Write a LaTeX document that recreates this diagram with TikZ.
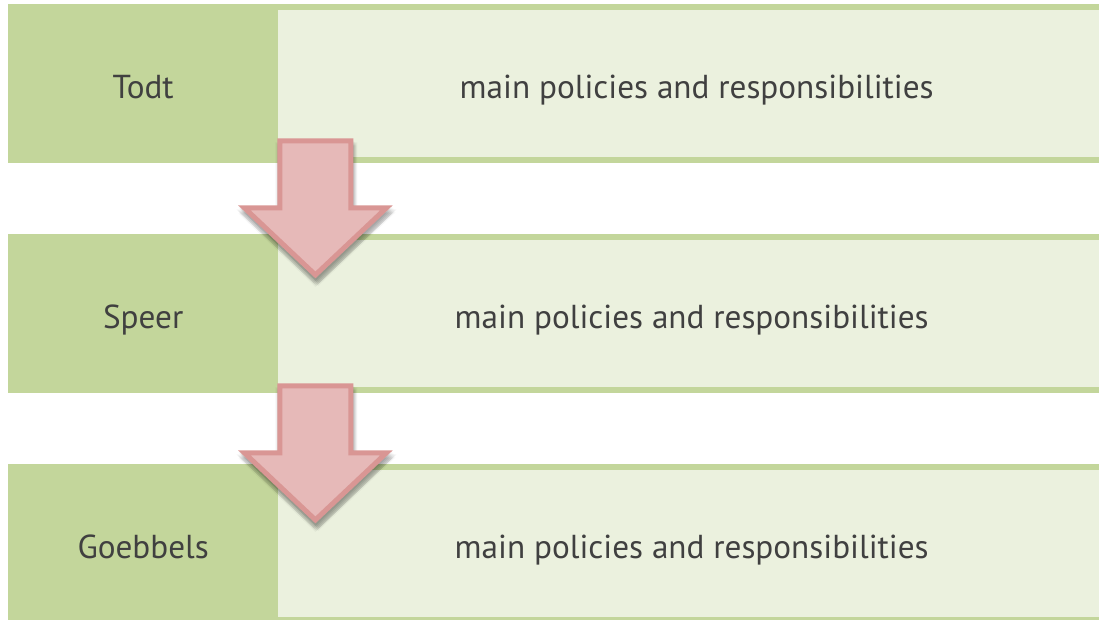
\documentclass[tikz,border=0pt]{standalone}
\usepackage{fontspec}
\setmainfont{PT Sans}
\definecolor{rowdark}{HTML}{C3D69B}
\definecolor{rowlight}{HTML}{EBF1DE}
\definecolor{arrowfill}{HTML}{E6B9B8}
\definecolor{arrowline}{HTML}{D99694}
\definecolor{labeltext}{HTML}{404040}
\tikzset{
  namebox/.style={fill=rowdark, draw=none, inner sep=0pt, anchor=north west,
    minimum width=270pt, minimum height=159pt},
  infobox/.style={fill=rowlight, draw=none, inner sep=0pt, anchor=north west,
    minimum width=821pt, minimum height=159pt},
  rowrule/.style={rowdark, line width=6pt},
  rowlabel/.style={anchor=base, inner sep=0pt, text=labeltext, font=\fontsize{33.2}{40}\selectfont},
  arrowbody/.style={fill=arrowfill, draw=arrowline, line width=5pt, line join=miter},
  arrowshadow/.style={fill=black, draw=none, fill opacity=0.035},
  pics/downarrow/.style={code={
    % soft shadow built from offset copies of the outline
    \foreach \dx/\dy in {0/2,1/3,2/4,3/5,2/6,0/6,-1/5,4/4,1/7,3/7,-2/4,0/8}{
      \path[arrowshadow] (-38+\dx,-2.5+\dy) -- (38+\dx,-2.5+\dy) -- (38+\dx,64.5+\dy)
        -- (77+\dx,64.5+\dy) -- (0+\dx,138+\dy) -- (-77+\dx,64.5+\dy) -- (-38+\dx,64.5+\dy) -- cycle;
    }
    \path[arrowbody] (-35.5,0) -- (35.5,0) -- (35.5,67) -- (71,67) -- (0,134)
      -- (-71,67) -- (-35.5,67) -- cycle;
  }}
}
\begin{document}
\begin{tikzpicture}[x=1pt,y=-1pt]
\useasboundingbox (0,0) rectangle (1099,620);
\clip (0,0) rectangle (1099,620);

% three rows: name column on the left, description band on the right
\foreach \name/\who/\top/\dx in {todt/Todt/4/8, speer/Speer/234/3, goebbels/Goebbels/464/3}{
  \node[namebox] (\name-name) at (8,\top) {};
  \node[infobox] (\name-info) at (278,\top) {};
  \draw[rowrule] ([yshift=-3pt]\name-info.north west) -- ([yshift=-3pt]\name-info.north east);
  \draw[rowrule] ([yshift=3pt]\name-info.south west) -- ([yshift=3pt]\name-info.south east);
  \node[rowlabel] (\name-label) at ([yshift=-14.5pt]\name-name.center) {\who};
  \node[rowlabel] (\name-text) at ([xshift=\dx pt, yshift=-14.5pt]\name-info.center)
    {main policies and responsibilities};
}

% arrows leading from one row down to the next
\coordinate (arrow1) at ([xshift=37pt, yshift=22.5pt]todt-name.south east);
\coordinate (arrow2) at ([xshift=37pt, yshift=7.5pt]speer-name.south east);
\pic at (arrow1) {downarrow};
\pic at (arrow2) {downarrow};
\end{tikzpicture}
\end{document}
